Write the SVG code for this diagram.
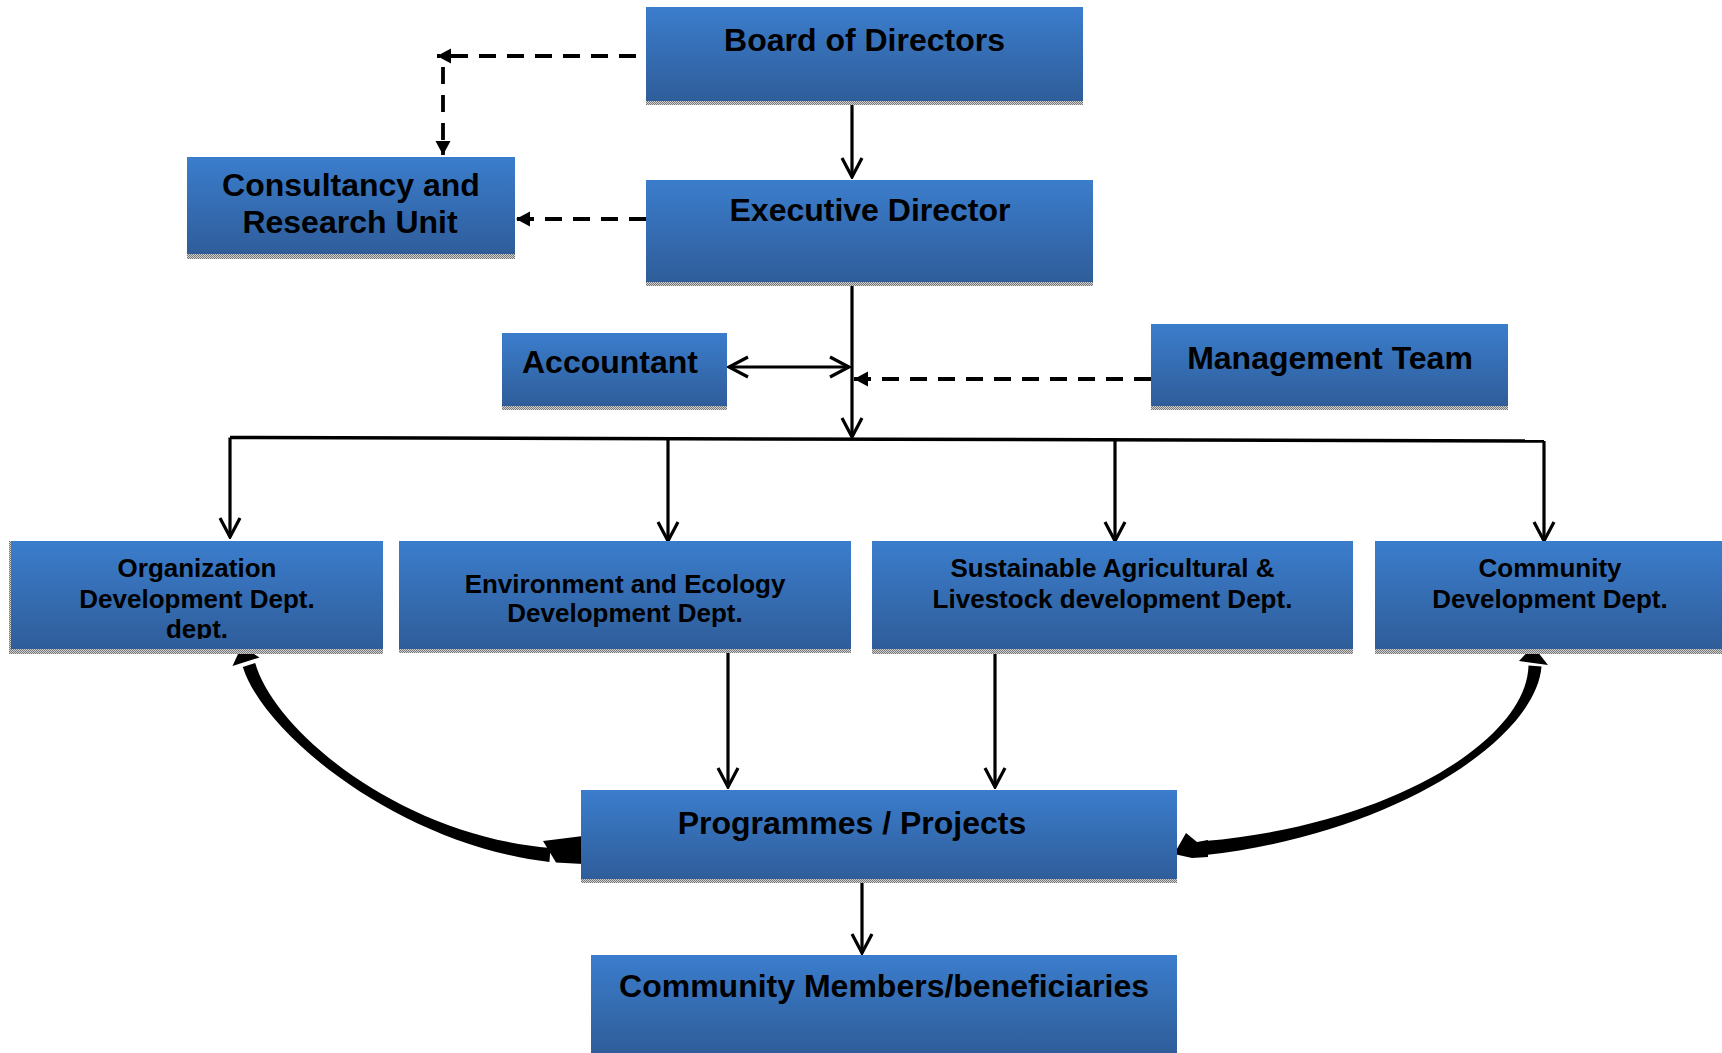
<svg xmlns="http://www.w3.org/2000/svg" width="1722" height="1053" viewBox="0 0 1722 1053">
<style>
.box{fill:url(#g)}
.shd{fill:url(#dots)}
.t{font-family:"Liberation Sans",Arial,Helvetica,sans-serif;font-weight:bold;fill:#000;text-anchor:middle}
.t32{font-size:32px}
.t26{font-size:26px}
.ln{fill:none;stroke:#000;stroke-width:3.2}
.dash{fill:none;stroke:#000;stroke-width:3.8;stroke-dasharray:17 11}
.solid{fill:#000;stroke:none}
</style>
<defs>
<linearGradient id="g" x1="0" y1="0" x2="0" y2="1">
<stop offset="0" stop-color="#3B7DCC"/>
<stop offset="1" stop-color="#2F5D9A"/>
</linearGradient>
<pattern id="dots" width="2" height="2" patternUnits="userSpaceOnUse">
<rect width="2" height="2" fill="#d0d0d0"/>
<rect width="1" height="1" fill="#777"/>
<rect x="1" y="1" width="1" height="1" fill="#777"/>
</pattern>
<marker id="v" viewBox="-22 -12 24 24" refX="0" refY="0" markerWidth="24" markerHeight="24" markerUnits="userSpaceOnUse" orient="auto-start-reverse">
<path d="M-19,-10 L0,0 L-19,10" fill="none" stroke="#000" stroke-width="3.2" stroke-linejoin="miter"/>
</marker>
<marker id="f" viewBox="-16 -10 18 20" refX="0" refY="0" markerWidth="18" markerHeight="20" markerUnits="userSpaceOnUse" orient="auto">
<path d="M-14,-7.5 L0,0 L-14,7.5 Z" fill="#000"/>
</marker>
<clipPath id="orgclip"><rect x="11" y="541" width="372" height="98"/></clipPath>
</defs>

<g id="connectors">
<path class="ln" d="M852,105 L852,177" marker-end="url(#v)"/>
<path class="dash" d="M636,56 L437,56" marker-end="url(#f)"/>
<path class="dash" d="M443,67 L443,155" marker-end="url(#f)"/>
<path class="dash" d="M646,219 L516,219" marker-end="url(#f)"/>
<path class="ln" d="M852,282 L852,437" marker-end="url(#v)"/>
<path class="ln" d="M729,367 L849,367" marker-start="url(#v)" marker-end="url(#v)"/>
<path class="dash" d="M1151,379 L854,379" marker-end="url(#f)"/>
<path class="ln" style="stroke-width:3.5" d="M230,437.5 L1544,441"/>
<path class="ln" d="M230,437.5 L230,537" marker-end="url(#v)"/>
<path class="ln" d="M668,438.7 L668,541" marker-end="url(#v)"/>
<path class="ln" d="M1115,439.9 L1115,541" marker-end="url(#v)"/>
<path class="ln" d="M1544,441 L1544,541" marker-end="url(#v)"/>
<path class="ln" d="M728,649 L728,787" marker-end="url(#v)"/>
<path class="ln" d="M995,654 L995,787" marker-end="url(#v)"/>
<path class="ln" d="M862,883 L862,953" marker-end="url(#v)"/>
<g id="curve-left">
<path class="solid" d="M242.8,667 C264.2,735 399.5,844.5 549.4,862 L550.6,848 C400.5,835.5 274.8,731.5 255.2,663 Z"/>
<polygon class="solid" points="241.7,646 232.5,666 259.5,657.5"/>
<polygon class="solid" points="543,841 583,836 583,864 556,862.5"/>
</g>
<g id="curve-right">
<path class="solid" d="M1541.5,666.5 C1536,738.5 1396,833.5 1205.6,855 L1204.4,841 C1395,824.5 1527,738 1528.5,665.5 Z"/>
<polygon class="solid" points="1533,646 1519,661 1548,665"/>
<polygon class="solid" points="1174,854 1186,833 1197,842 1208,840 1208,857 1192,858"/>
</g>
</g>

<g id="board">
<rect class="box" x="646" y="7" width="437" height="94"/>
<rect class="shd" x="646" y="101" width="437" height="4"/>
<text class="t t32" x="864.5" y="51">Board of Directors</text>
</g>
<g id="consultancy">
<rect class="box" x="187" y="157" width="328" height="97"/>
<rect class="shd" x="187" y="254" width="328" height="5"/>
<text class="t t32" x="351" y="196">Consultancy and</text>
<text class="t t32" x="350" y="233">Research Unit</text>
</g>
<g id="executive">
<rect class="box" x="646" y="180" width="447" height="102"/>
<rect class="shd" x="646" y="282" width="447" height="4"/>
<text class="t t32" x="870" y="221">Executive Director</text>
</g>
<g id="accountant">
<rect class="box" x="502" y="333" width="225" height="73"/>
<rect class="shd" x="502" y="406" width="225" height="4"/>
<text class="t t32" x="610" y="373">Accountant</text>
</g>
<g id="management">
<rect class="box" x="1151" y="324" width="357" height="82"/>
<rect class="shd" x="1151" y="406" width="357" height="4"/>
<text class="t t32" x="1330" y="369">Management Team</text>
</g>
<g id="org-dev">
<rect class="shd" x="9" y="541" width="2" height="113"/>
<rect class="box" x="11" y="541" width="372" height="108"/>
<rect class="shd" x="9" y="649" width="374" height="5"/>
<text class="t t26" x="197" y="577">Organization</text>
<text class="t t26" x="197" y="608">Development Dept.</text>
<text class="t t26" x="197" y="638" clip-path="url(#orgclip)">dept.</text>
</g>
<g id="env-dev">
<rect class="box" x="399" y="541" width="452" height="108"/>
<rect class="shd" x="399" y="649" width="452" height="4"/>
<text class="t t26" x="625" y="593">Environment and Ecology</text>
<text class="t t26" x="625" y="622">Development Dept.</text>
</g>
<g id="sust-dev">
<rect class="box" x="872" y="541" width="481" height="108"/>
<rect class="shd" x="872" y="649" width="481" height="5"/>
<text class="t t26" x="1112.5" y="577">Sustainable Agricultural &amp;</text>
<text class="t t26" x="1112.5" y="608">Livestock development Dept.</text>
</g>
<g id="community-dev">
<rect class="box" x="1375" y="541" width="350" height="108"/>
<rect class="shd" x="1375" y="649" width="350" height="5"/>
<text class="t t26" x="1550" y="577">Community</text>
<text class="t t26" x="1550" y="608">Development Dept.</text>
</g>
<g id="programmes">
<rect class="box" x="581" y="790" width="596" height="89"/>
<rect class="shd" x="581" y="879" width="596" height="4"/>
<text class="t t32" x="852" y="834">Programmes / Projects</text>
</g>
<g id="members">
<rect class="box" x="591" y="955" width="586" height="98"/>
<text class="t t32" x="884" y="997">Community Members/beneficiaries</text>
</g>
</svg>
